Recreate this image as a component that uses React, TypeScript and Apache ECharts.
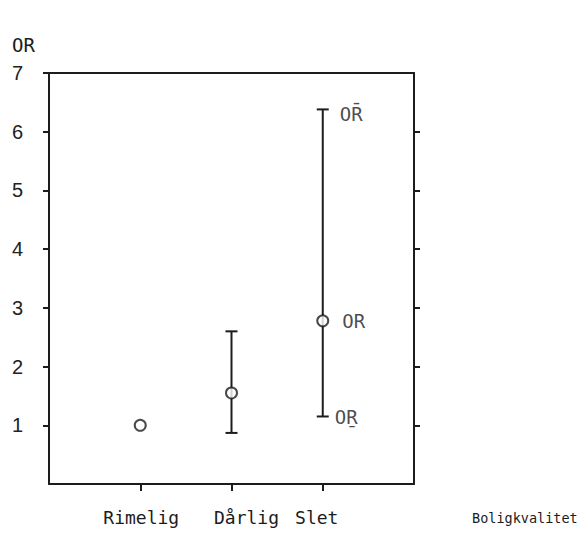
import React, { useEffect, useRef } from "react";
import * as echarts from "echarts";

const categories = ["Rimelig", "Dårlig", "Slet"];
const orValues = [1.0, 1.55, 2.78];
const lowerCI: (number | null)[] = [null, 0.87, 1.15];
const upperCI: (number | null)[] = [null, 2.6, 6.38];
const yTickValues = [1, 2, 3, 4, 5, 6, 7];
const rightTickValues = [1, 2, 3, 4, 5, 6];
const upperLabel = "OR\u0304";
const lowerLabel = "OR\u0331";
const pointLabel = "OR";

const INK = "#1c1c1c";
const MONO = "'DejaVu Sans Mono', 'Liberation Mono', monospace";

export default function App() {
  const ref = useRef<HTMLDivElement>(null);
  useEffect(() => {
    if (!ref.current) return;
    const chart = echarts.init(ref.current, null, { renderer: "svg" });
    const xPos = categories.map((_, i) => i + 1);
    const ciData = categories
      .map((_, i) => [xPos[i], lowerCI[i], upperCI[i]])
      .filter((d) => d[1] != null && d[2] != null);
    const last = categories.length - 1;
    const labelShift = [1, 15, -6];
    const rich: any = {};
    categories.forEach((_, i) => {
      const s = labelShift[i];
      rich["c" + i] = {
        fontFamily: MONO,
        fontSize: 18,
        color: INK,
        padding: s >= 0 ? [0, 0, 0, 2 * s] : [0, -2 * s, 0, 0],
      };
    });
    chart.setOption({
      animation: false,
      grid: { left: 49, right: 168, top: 73, bottom: 52 },
      xAxis: [
        {
          type: "value",
          min: 0,
          max: categories.length + 1,
          interval: 1,
          position: "bottom",
          splitLine: { show: false },
          axisLine: { show: true, onZero: false, lineStyle: { color: INK, width: 2 } },
          axisTick: {
            show: true,
            customValues: xPos,
            length: 7,
            lineStyle: { color: INK, width: 2 },
          },
          axisLabel: {
            customValues: xPos,
            margin: 24,
            formatter: (v: number) => {
              const i = Math.round(v) - 1;
              return categories[i] ? `{c${i}|${categories[i]}}` : "";
            },
            rich,
          },
        },
        {
          type: "value",
          min: 0,
          max: categories.length + 1,
          position: "top",
          splitLine: { show: false },
          axisLine: { show: true, onZero: false, lineStyle: { color: INK, width: 2 } },
          axisTick: { show: false },
          axisLabel: { show: false },
        },
      ],
      yAxis: [
        {
          type: "value",
          min: 0,
          max: 7,
          interval: 1,
          position: "left",
          splitLine: { show: false },
          axisLine: { show: true, onZero: false, lineStyle: { color: INK, width: 2 } },
          axisTick: {
            show: true,
            customValues: yTickValues,
            length: 6,
            lineStyle: { color: INK, width: 2 },
          },
          axisLabel: {
            customValues: yTickValues,
            margin: 26,
            fontFamily: "'Liberation Sans', Arial, sans-serif",
            fontSize: 20,
            color: "#222",
          },
        },
        {
          type: "value",
          min: 0,
          max: 7,
          interval: 1,
          position: "right",
          splitLine: { show: false },
          axisLine: { show: true, onZero: false, lineStyle: { color: INK, width: 2 } },
          axisTick: {
            show: true,
            customValues: rightTickValues,
            length: 6,
            lineStyle: { color: INK, width: 2 },
          },
          axisLabel: { show: false },
        },
      ],
      graphic: [
        {
          type: "text",
          left: 12,
          top: 35,
          style: { text: "OR", fontFamily: MONO, fontSize: 19, fill: INK },
        },
        {
          type: "text",
          left: 472,
          top: 511,
          style: { text: "Boligkvalitet", fontFamily: MONO, fontSize: 13.5, fill: INK },
        },
      ],
      series: [
        {
          type: "custom",
          silent: true,
          z: 2,
          data: ciData,
          renderItem: (params: any, api: any) => {
            const x = api.value(0);
            const lo = api.coord([x, api.value(1)]);
            const hi = api.coord([x, api.value(2)]);
            const hw = 6;
            const st = { stroke: INK, lineWidth: 2 };
            return {
              type: "group",
              children: [
                { type: "line", shape: { x1: lo[0], y1: lo[1], x2: hi[0], y2: hi[1] }, style: st },
                { type: "line", shape: { x1: lo[0] - hw, y1: lo[1], x2: lo[0] + hw, y2: lo[1] }, style: st },
                { type: "line", shape: { x1: hi[0] - hw, y1: hi[1], x2: hi[0] + hw, y2: hi[1] }, style: st },
              ],
            };
          },
        },
        {
          type: "scatter",
          silent: true,
          z: 4,
          symbol: "circle",
          symbolSize: 11,
          itemStyle: { color: "#fff", borderColor: INK, borderWidth: 2 },
          data: orValues.map((v, i) => ({
            value: [xPos[i], v],
            label: {
              show: i === last,
              formatter: pointLabel,
              position: "right",
              distance: 13,
              fontFamily: MONO,
              fontSize: 19,
              color: INK,
            },
          })),
        },
        {
          type: "scatter",
          silent: true,
          z: 3,
          symbolSize: 2,
          itemStyle: { color: "rgba(0,0,0,0)" },
          data: [
            {
              value: [xPos[last], upperCI[last]],
              label: {
                show: true,
                formatter: upperLabel,
                position: "right",
                distance: 16,
                offset: [0, 5],
                fontFamily: MONO,
                fontSize: 19,
                color: INK,
              },
            },
            {
              value: [xPos[last], lowerCI[last]],
              label: {
                show: true,
                formatter: lowerLabel,
                position: "right",
                distance: 11,
                offset: [0, 1],
                fontFamily: MONO,
                fontSize: 19,
                color: INK,
              },
            },
          ],
        },
      ],
    });
    return () => chart.dispose();
  }, []);
  return (
    <div
      ref={ref}
      style={{ position: "fixed", left: 0, top: 0, width: 582, height: 536, background: "#fff" }}
    />
  );
}
